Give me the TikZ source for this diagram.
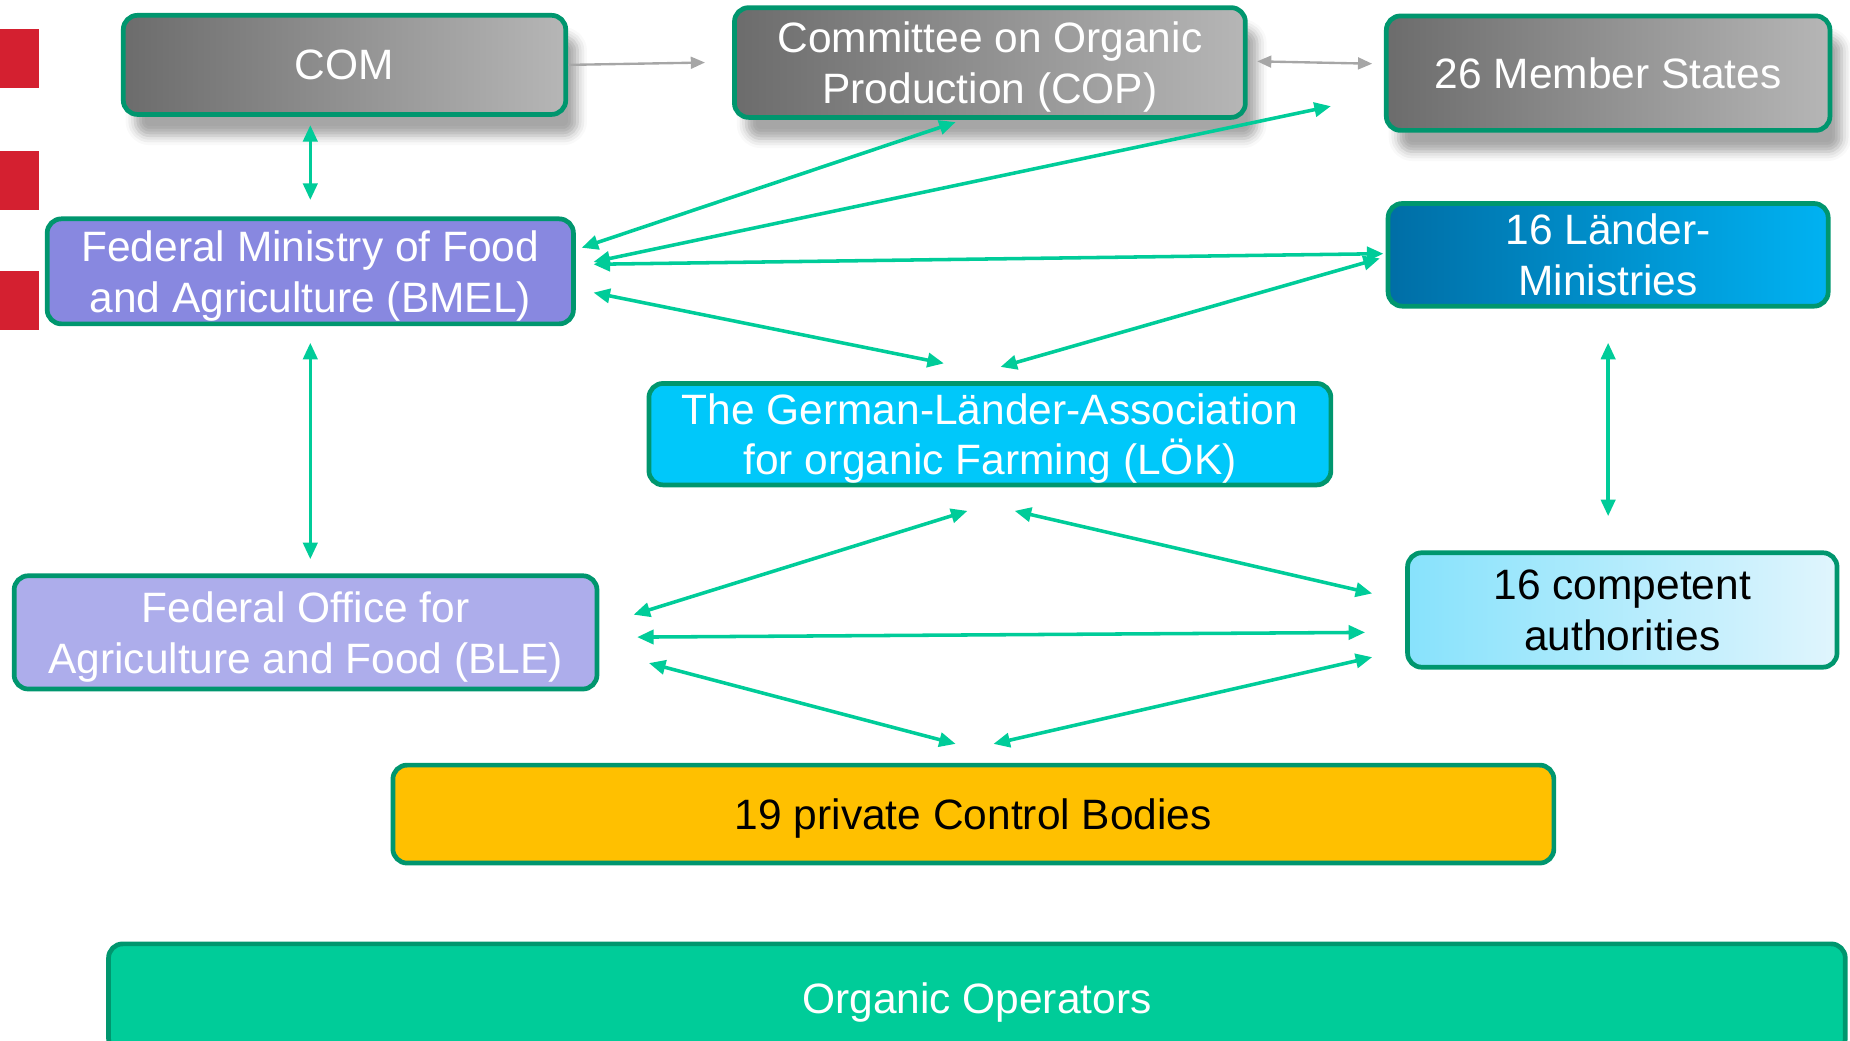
\documentclass[tikz,border=0pt]{standalone}
\usepackage{fontspec}
\setmainfont{Liberation Sans}
\usetikzlibrary{arrows.meta,shadows.blur}
\definecolor{framegreen}{RGB}{0,150,110}
\definecolor{linkgreen}{RGB}{0,204,153}
\definecolor{linkgrey}{RGB}{166,166,166}
\definecolor{greydark}{RGB}{108,108,108}
\definecolor{greylight}{RGB}{182,182,182}
\definecolor{bluedark}{RGB}{0,110,166}
\definecolor{bluelight}{RGB}{0,178,242}
\definecolor{bmelfill}{RGB}{136,136,224}
\definecolor{blefill}{RGB}{173,173,235}
\definecolor{lokfill}{RGB}{0,200,250}
\definecolor{caleft}{RGB}{135,226,252}
\definecolor{caright}{RGB}{224,245,253}
\definecolor{cbfill}{RGB}{255,192,0}
\definecolor{oofill}{RGB}{0,204,153}
\definecolor{slidered}{RGB}{212,32,48}

\begin{document}
\begin{tikzpicture}[x=1pt,y=-1pt,
    box/.style={draw=framegreen, line width=4pt, rounded corners=12pt, inner sep=0pt,
      align=center, text=white, text depth=0pt, font=\fontsize{36}{43}\selectfont},
    greybox/.style={box, left color=greydark, right color=greylight,
      blur shadow={shadow xshift=10pt, shadow yshift=-18pt, shadow blur radius=8pt, shadow opacity=35}},
    link/.style={{Triangle[length=14pt,width=12pt]}-{Triangle[length=14pt,width=12pt]},
      draw=linkgreen, line width=3pt},
    greylink/.style={draw=linkgrey, line width=2pt}]
  \useasboundingbox (0,0) rectangle (1568,882);

  \fill [slidered] (0,25) rectangle (33,75);
  \fill [slidered] (0,128) rectangle (33,178);
  \fill [slidered] (0,230) rectangle (33,280);

  \node [greybox, minimum width=375pt, minimum height=84pt] (com) at (292,55) {COM};
  \node [greybox, minimum width=433pt, minimum height=93pt] (cop) at (839,53) {Committee on Organic\\Production (COP)};
  \node [greybox, minimum width=376pt, minimum height=97pt] (ms) at (1363,62) {26 Member States};
  \node [box, left color=bluedark, right color=bluelight, minimum width=373pt, minimum height=87pt] (lm) at (1363,216) {16 Länder-\\Ministries};
  \node [box, fill=bmelfill, minimum width=446pt, minimum height=89pt] (bmel) at (263,230) {Federal Ministry of Food\\and Agriculture (BMEL)};
  \node [box, fill=lokfill, minimum width=578pt, minimum height=86pt] (lok) at (839,368) {The German-Länder-Association\\for organic Farming (LÖK)};
  \node [box, fill=blefill, minimum width=494pt, minimum height=96pt] (ble) at (259,536) {Federal Office for\\Agriculture and Food (BLE)};
  \node [box, left color=caleft, right color=caright, text=black, minimum width=364pt, minimum height=97pt] (ca) at (1375,517) {16 competent\\authorities};
  \node [box, fill=cbfill, text=black, minimum width=984pt, minimum height=83pt] (cb) at (825,690) {19 private Control Bodies};
  \node [box, fill=oofill, minimum width=1472pt, minimum height=92pt] (oo) at (828,846) {Organic Operators};

  \draw [greylink, -{Triangle[length=12pt,width=10pt]}] (com.east) -- ([xshift=-23pt]cop.west);
  \draw [greylink, {Triangle[length=12pt,width=10pt]}-{Triangle[length=12pt,width=10pt]}] ([xshift=8pt,yshift=1pt]cop.east) -- ([xshift=-10pt,yshift=8pt]ms.west);

  \draw [link, shorten <=7pt, shorten >=14pt] (bmel.north |- com.south) -- (bmel.north);
  \draw [link] ([xshift=5pt,yshift=20pt]bmel.east) -- ([xshift=-29pt,yshift=-2pt]cop.south);
  \draw [link] ([xshift=15pt,yshift=8pt]bmel.east) -- ([xshift=-45pt,yshift=-28pt]ms.west);
  \draw [link] ([xshift=15pt,yshift=6pt]bmel.east) -- ([xshift=-2pt,yshift=1pt]lm.west);
  \draw [link] ([xshift=15pt,yshift=-18pt]bmel.east) -- ([xshift=-39pt,yshift=15pt]lok.north);
  \draw [link] ([xshift=-5pt,yshift=-3pt]lm.west) -- ([xshift=9pt,yshift=12pt]lok.north);
  \draw [link, shorten <=14pt, shorten >=12pt] (bmel.south) -- (bmel.south |- ble.north);
  \draw [link, shorten <=29pt, shorten >=29pt] (lm.south) -- (lm.south |- ca.north);
  \draw [link] ([xshift=-19pt,yshift=-20pt]lok.south) -- ([xshift=29pt,yshift=15pt]ble.east);
  \draw [link] ([xshift=21pt,yshift=-20pt]lok.south) -- ([xshift=-28pt,yshift=14pt]ca.west);
  \draw [link] ([xshift=32pt,yshift=-4pt]ble.east) -- ([xshift=-34pt,yshift=-19pt]ca.west);
  \draw [link] ([xshift=42pt,yshift=-26pt]ble.east) -- ([xshift=-15pt,yshift=16pt]cb.north);
  \draw [link] ([xshift=-28pt,yshift=-40pt]ca.west) -- ([xshift=17pt,yshift=16pt]cb.north);
\end{tikzpicture}
\end{document}
